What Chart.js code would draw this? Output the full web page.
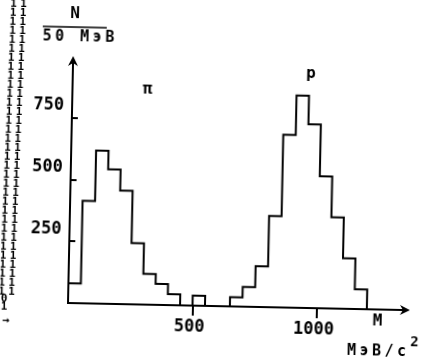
<!DOCTYPE html>
<html>
<head>
<meta charset="utf-8">
<script src="https://cdn.jsdelivr.net/npm/chart.js@4.4.1/dist/chart.umd.min.js"></script>
<style>
  html, body { margin: 0; padding: 0; background: #fff; overflow: hidden; }
  #wrap { position: relative; width: 428px; height: 360px; overflow: hidden; }
  /* the scanned original sits about 1.2 degrees off square */
  #hist { transform-origin: 68px 303px; transform: rotate(1.2deg); }
</style>
</head>
<body>
<div id="wrap"><canvas id="hist" width="428" height="360"></canvas></div>
<script>
// lower edges of the 50 MeV bins and the counts
const binStarts = [0, 50, 100, 150, 200, 250, 300, 350, 400, 450, 500, 550,
	600, 650, 700, 750, 800, 850, 900, 950, 1000, 1050, 1100, 1150];
const counts = [80, 415, 620, 545, 460, 248, 125, 85, 45, 0, 41, 0,
	0, 38, 80, 165, 370, 700, 860, 745, 535, 370, 205, 80];
const binEnd = 1200;
const xTicks = [500, 1000];
const yTicks = [250, 500, 750];

const mono = "'DejaVu Sans Mono', monospace";

// histogram outline: start on the axis, step through every bin, drop back to zero
const points = [{ x: binStarts[0], y: 0 }];
binStarts.forEach((b, i) => points.push({ x: b, y: counts[i] }));
points.push({ x: binEnd, y: 0 });

const annotate = {
	id: "annotate",
	afterDraw(chart) {
		const { ctx, chartArea: a } = chart;
		ctx.save();
		ctx.fillStyle = "#000";
		ctx.strokeStyle = "#000";

		// arrow heads on both axes
		ctx.beginPath();
		ctx.moveTo(a.left, a.top - 4);
		ctx.lineTo(a.left - 5, a.top + 6);
		ctx.lineTo(a.left, a.top + 3);
		ctx.lineTo(a.left + 5, a.top + 6);
		ctx.closePath();
		ctx.fill();
		ctx.beginPath();
		ctx.moveTo(a.right + 4, a.bottom);
		ctx.lineTo(a.right - 6, a.bottom - 5);
		ctx.lineTo(a.right - 3, a.bottom);
		ctx.lineTo(a.right - 6, a.bottom + 5);
		ctx.closePath();
		ctx.fill();

		ctx.textBaseline = "middle";
		// y axis title as a fraction
		ctx.font = "bold 16px " + mono;
		ctx.textAlign = "center";
		ctx.fillText("N", 69, 14);
		ctx.lineWidth = 1.5;
		ctx.beginPath();
		ctx.moveTo(37, 27);
		ctx.lineTo(101, 27);
		ctx.stroke();
		ctx.textAlign = "left";
		ctx.font = "bold 15px " + mono;
		ctx.letterSpacing = "3.5px";
		ctx.fillText("50 МэВ", 37, 37);

		// x axis title
		ctx.font = "bold 16px " + mono;
		ctx.letterSpacing = "0px";
		ctx.fillText("M", 373, 315);
		ctx.font = "bold 15px " + mono;
		ctx.letterSpacing = "3.5px";
		ctx.fillText("МэВ/c", 348, 345);
		ctx.letterSpacing = "0px";
		ctx.font = "bold 14px " + mono;
		ctx.fillText("2", 411, 335);

		// peak labels
		ctx.textAlign = "center";
		ctx.font = "bold 16px " + mono;
		ctx.fillText("π", 143, 88);
		ctx.fillText("p", 306, 69);

		// scan residue on the left margin
		ctx.font = "bold 11px " + mono;
		for (let i = 0; i < 33; i++) {
			const yy = 5 + i * 9;
			const lean = (303 - yy) * 0.021;
			ctx.fillText("1", 11 + lean, yy);
			ctx.fillText("1", 1 + lean, yy);
		}
		ctx.fillText("0", 4, 300);
		ctx.fillText("1", 4, 308);
		ctx.font = "bold 12px " + mono;
		ctx.fillText("→", 6, 322);
		ctx.restore();
	},
};

const tickFont = { family: mono, size: 17, weight: "bold" };

new Chart(document.getElementById("hist"), {
	type: "line",
	data: {
		datasets: [
			{
				data: points,
				stepped: "before",
				borderColor: "#000",
				borderWidth: 2,
				pointRadius: 0,
				fill: false,
				clip: false,
			},
		],
	},
	options: {
		responsive: false,
		animation: false,
		devicePixelRatio: 1,
		layout: { padding: { top: 60, right: 22, left: 0, bottom: 0 } },
		plugins: { legend: { display: false }, tooltip: { enabled: false } },
		scales: {
			x: {
				type: "linear",
				min: 0,
				max: 1357,
				afterFit: (s) => { s.height = 57; },
				afterBuildTicks: (s) => { s.ticks = xTicks.map((v) => ({ value: v })); },
				grid: { drawOnChartArea: false, drawTicks: true, tickLength: 10, color: "#000", lineWidth: 2 },
				border: { display: true, color: "#000", width: 2 },
				ticks: {
					color: "#000", font: tickFont, padding: 1, labelOffset: -3,
					maxRotation: 0, autoSkip: false, callback: (v) => String(v),
				},
			},
			y: {
				type: "linear",
				min: 0,
				max: 985,
				afterFit: (s) => { s.width = 68; },
				afterBuildTicks: (s) => { s.ticks = yTicks.map((v) => ({ value: v })); },
				grid: { drawOnChartArea: false, drawTicks: true, tickLength: -6, color: "#000", lineWidth: 2 },
				border: { display: true, color: "#000", width: 2 },
				ticks: {
					color: "#000", font: tickFont, padding: 14, labelOffset: -12,
					autoSkip: false, callback: (v) => String(v),
				},
			},
		},
	},
	plugins: [annotate],
});
</script>
</body>
</html>
